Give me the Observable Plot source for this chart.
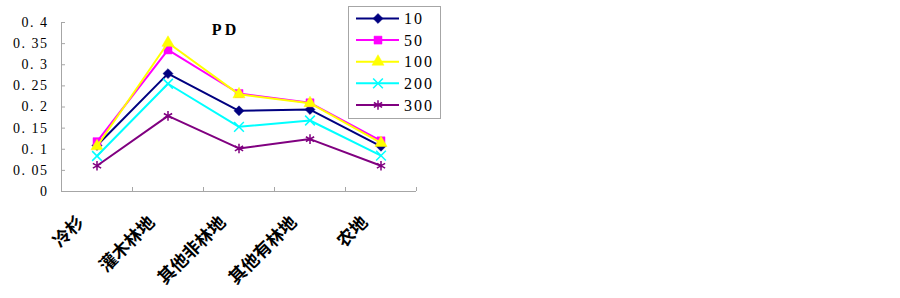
<!DOCTYPE html>
<html>
<head>
<meta charset="utf-8">
<script src="https://cdn.jsdelivr.net/npm/d3@7"></script>
<script src="https://cdn.jsdelivr.net/npm/@observablehq/plot@0.6"></script>
<style>
  html, body { margin: 0; padding: 0; background: #fff; }
  #wrap { position: relative; width: 900px; height: 298px; }
  #legend { position: absolute; left: 0; top: 0; }
  .ylab text { letter-spacing: 1.5px; }
</style>
</head>
<body>
<div id="wrap"></div>
<script>
const categories = ["冷杉", "灌木林地", "其他非林地", "其他有林地", "农地"];
const seriesNames = ["10", "50", "100", "200", "300"];
const v10  = [0.109, 0.279, 0.191, 0.194, 0.107];
const v50  = [0.118, 0.335, 0.232, 0.210, 0.120];
const v100 = [0.107, 0.352, 0.230, 0.209, 0.115];
const v200 = [0.084, 0.255, 0.153, 0.168, 0.085];
const v300 = [0.061, 0.179, 0.102, 0.124, 0.061];
const yTicks = [0, 0.05, 0.1, 0.15, 0.2, 0.25, 0.3, 0.35, 0.4];
const title = "PD";

const seriesValues = [v10, v50, v100, v200, v300];
const colors = ["#000080", "#FF00FF", "#FFFF00", "#00FFFF", "#800080"];
const symbols = ["diamond2", "square", "triangle", "times", "asterisk"];
const filled = [true, true, true, false, false];

const W = 900, H = 298;
const mL = 61, mR = 484, mT = 22, mB = 107;
const half = (W - mL - mR) / categories.length / 2;
const serif = "'Liberation Serif', 'DejaVu Serif', serif";
const cjk = "'Noto Sans CJK SC', sans-serif";
const axisGray = "#a6a6a6";

const rows = seriesNames.flatMap((s, i) =>
  categories.map((c, j) => ({series: s, cat: c, value: seriesValues[i][j]})));

const marks = [
  Plot.ruleY([0], {stroke: axisGray, strokeWidth: 1}),
  Plot.ruleX([categories[0]], {dx: -half, stroke: axisGray}),
  Plot.ruleX(categories, {dx: half, y1: 0, y2: 0, insetTop: -4, stroke: axisGray}),
  Plot.tickY(yTicks, {y: d => d, insetRight: (W - mL - mR) - 4, stroke: axisGray}),
  Plot.text(yTicks, {
    y: d => d, frameAnchor: "left", textAnchor: "end", dx: -13,
    text: d => d === 0 ? "0" : String(d).replace(".", ". "),
    fontFamily: serif, fontSize: 14, fill: "#000", className: "ylab"
  }),
  Plot.text(categories, {
    x: d => d, frameAnchor: "bottom", rotate: -45, textAnchor: "end", lineAnchor: "middle",
    dx: -16, dy: 28, fontFamily: cjk, fontSize: 17.5, fontWeight: "bold", fill: "#000"
  }),
  Plot.text([title], {
    frameAnchor: "top", dx: -15, dy: 7, lineAnchor: "middle",
    fontFamily: serif, fontSize: 16, fontWeight: "bold", fill: "#000",
    text: d => d.split("").join(" ")
  })
];

seriesNames.forEach((s, i) => {
  const data = rows.filter(r => r.series === s);
  marks.push(Plot.line(data, {x: "cat", y: "value", stroke: colors[i], strokeWidth: 2}));
  marks.push(Plot.dot(data, {
    x: "cat", y: "value", symbol: () => symbols[i], r: 4.5,
    fill: filled[i] ? colors[i] : "none",
    stroke: colors[i], strokeWidth: filled[i] ? 0.5 : 1.5
  }));
});

const chart = Plot.plot({
  width: W, height: H,
  marginLeft: mL, marginRight: mR, marginTop: mT, marginBottom: mB,
  x: {type: "band", domain: categories, padding: 0, axis: null},
  y: {domain: [0, 0.4], axis: null},
  symbol: {type: "identity"},
  style: {background: "#fff"},
  marks
});
document.getElementById("wrap").appendChild(chart);

// Legend
const lg = d3.select("#wrap").append("svg")
  .attr("id", "legend").attr("width", W).attr("height", H);
const bx = 348, by = 6, bw = 92, bh = 112;
lg.append("rect").attr("x", bx + 0.5).attr("y", by + 0.5).attr("width", bw).attr("height", bh)
  .attr("fill", "#fff").attr("stroke", axisGray);
const d3sym = {diamond2: d3.symbolDiamond2, square: d3.symbolSquare, triangle: d3.symbolTriangle,
  times: d3.symbolTimes, asterisk: d3.symbolAsterisk};
seriesNames.forEach((s, i) => {
  const yy = by + 12.5 + i * 21.6;
  lg.append("line").attr("x1", 356).attr("x2", 399).attr("y1", yy).attr("y2", yy)
    .attr("stroke", colors[i]).attr("stroke-width", 2);
  lg.append("path").attr("transform", `translate(378,${yy})`)
    .attr("d", d3.symbol(d3sym[symbols[i]], Math.PI * 4.5 * 4.5)())
    .attr("fill", filled[i] ? colors[i] : "none")
    .attr("stroke", colors[i]).attr("stroke-width", filled[i] ? 0.5 : 1.5);
  lg.append("text").attr("x", 404).attr("y", yy).attr("dy", "0.36em")
    .attr("font-family", serif).attr("font-size", 16).attr("letter-spacing", "2px")
    .attr("fill", "#000").text(s);
});
</script>
</body>
</html>
